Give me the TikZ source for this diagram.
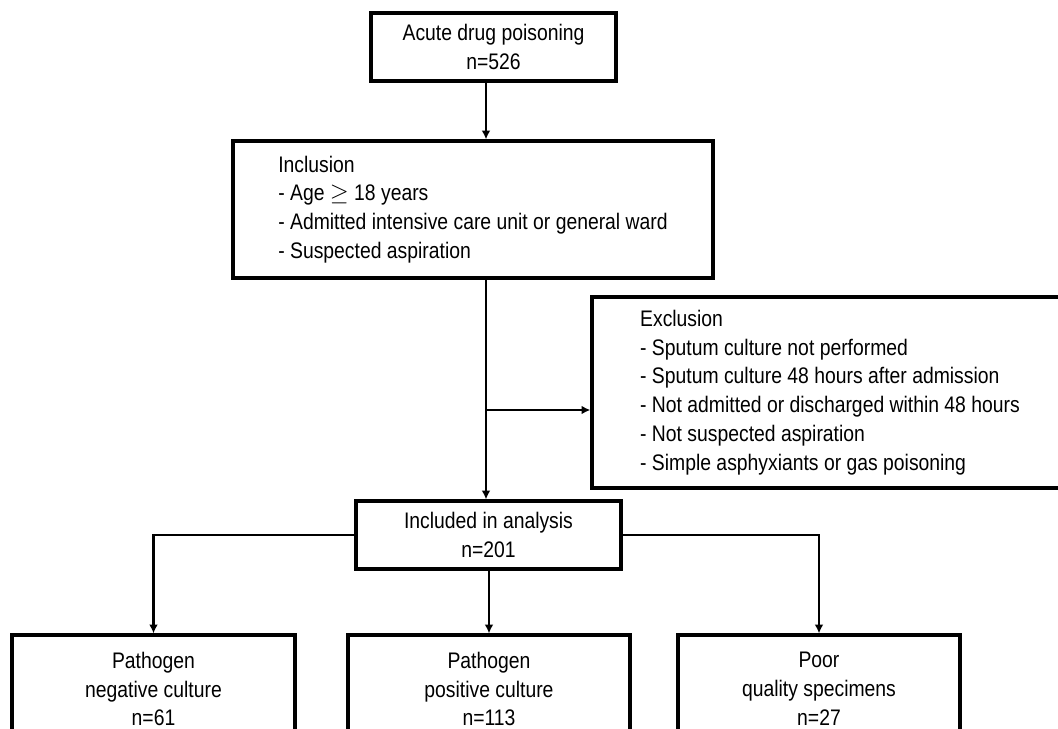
\documentclass[tikz,border=0pt]{standalone}
\usepackage{fontspec}
\setmainfont[FakeStretch=0.86]{Liberation Sans}
\usetikzlibrary{positioning,calc,arrows.meta}

\begin{document}
\begin{tikzpicture}[x=0.025cm, y=-0.025cm,
    box/.style={draw, line width=2.3pt, text=black, font=\fontsize{16}{20.5}\selectfont},
    listbox/.style={box, align=left},
    flow/.style={line width=1.6pt, -{Latex[length=0.22cm,width=0.22cm]}}]
    \useasboundingbox (0,0) rectangle (1058,729);

    \node [box, minimum width=6.125cm, minimum height=1.7cm, align=center] (acute) at (493.5,47) {Acute drug poisoning\\n=526};
    \node [listbox, minimum width=12cm, minimum height=3.425cm] (incl) at (473,209.5)
        {Inclusion\\- Age $\geq$ 18 years\\- Admitted intensive care unit or general ward\\- Suspected aspiration};
    \node [listbox, minimum width=11.9cm, minimum height=4.775cm] (excl) at (830,392.5)
        {Exclusion\\- Sputum culture not performed\\- Sputum culture 48 hours after admission\\- Not admitted or discharged within 48 hours\\- Not suspected aspiration\\- Simple asphyxiants or gas poisoning};
    \node [box, minimum width=6.625cm, minimum height=1.7cm, align=center] (incan) at (488.5,535) {Included in analysis\\n=201};

    % outcome boxes
    \node [box, minimum width=7.075cm, minimum height=2.7cm, align=center] (neg) at (153.5,689) {Pathogen\\negative culture\\n=61};
    \node [box, minimum width=7.05cm, minimum height=2.7cm, align=center] (pos) at (489,689) {Pathogen\\positive culture\\n=113};
    \node [box, minimum width=7.05cm, minimum height=2.7cm, align=center] (poor) at (819,689) {Poor\\quality specimens\\n=27};

    \coordinate (trunk) at (486,0);
    \coordinate (split) at (486,410);

    \draw [flow] (acute.south -| trunk) -- (incl.north -| trunk);
    \draw [flow] (incl.south -| trunk) -- (incan.north -| trunk);
    \draw [flow] (split) -- (split -| excl.west);
    \draw [flow] (incan.west) -| (neg.north);
    \draw [flow] (incan.south -| pos.north) -- (pos.north);
    \draw [flow] (incan.east) -| (poor.north);
\end{tikzpicture}
\end{document}
